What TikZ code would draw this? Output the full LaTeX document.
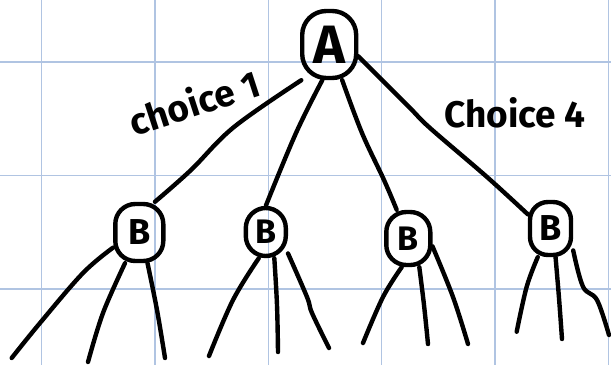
\documentclass[tikz,border=0pt]{standalone}
\usepackage{fontspec}
\setmainfont{Fira Sans}
\begin{document}
\begin{tikzpicture}[x=1pt,y=-1pt,
  gridline/.style={draw={rgb,255:red,176;green,196;blue,226},line width=1.4pt},
  ink/.style={line width=4.4pt,line cap=round,line join=round},
  vbox/.style={draw,ink,inner sep=0pt,rounded corners=#1},
  vbox/.default=20pt,
  lbl/.style={font=\fontsize{37}{40}\selectfont\bfseries,inner sep=0pt},
  sm/.style={smooth,tension=0.6}]
\useasboundingbox (0,0) rectangle (611,365);
% grid
\foreach \gx in {41.5,154.9,268.3,381.7,495.1,608.5}
  \draw[gridline] (\gx,0) -- (\gx,365);
\foreach \gy in {62,175.4,288.8}
  \draw[gridline] (0,\gy) -- (611,\gy);
% nodes
\node[vbox=24pt,minimum width=54pt,minimum height=67pt,font=\fontsize{54}{56}\selectfont\bfseries] (A) at (329.2,44.5) {A};
\node[vbox,minimum width=48pt,minimum height=57pt,font=\fontsize{36}{38}\selectfont\bfseries] (B1) at (139.3,232.5) {B};
\node[vbox=20pt,minimum width=40pt,minimum height=48pt,font=\fontsize{34}{36}\selectfont\bfseries] (B2) at (265.8,232) {B};
\node[vbox,minimum width=44pt,minimum height=53pt,font=\fontsize{34}{36}\selectfont\bfseries] (B3) at (408.3,238.5) {B};
\node[vbox=18pt,minimum width=41pt,minimum height=53pt,font=\fontsize{36}{38}\selectfont\bfseries] (B4) at (550.5,228.5) {B};
% labels
\node[lbl,rotate=18] (c1) at (194,102) {choice 1};
\node[lbl] (c4) at (515,113) {Choice 4};
% edges from A
\draw[ink] plot[sm] coordinates {(A.232) (234,127) (191,170) (B1.63)};
\draw[ink] plot[sm] coordinates {(A.259) (296,133) (B2.90)};
\draw[ink] plot[sm] coordinates {(A.290) (362,133) (384,180) (B3.112)};
\draw[ink] plot[sm] coordinates {(A.-22) (409,107) (430,128) (487,177) (B4.148)};
% free ends
\coordinate (e11) at (11.7,358);
\coordinate (e12) at (88,362);
\coordinate (e13) at (165,358);
\coordinate (e21) at (209,356);
\coordinate (e22) at (278,352);
\coordinate (e23) at (329,348);
\coordinate (e31) at (363,343);
\coordinate (e32) at (428,344);
\coordinate (e33) at (468,344);
\coordinate (e41) at (516.7,331.7);
\coordinate (e42) at (562,339);
\coordinate (e43) at (609,335);
% edges from B nodes
\draw[ink] plot[sm] coordinates {(B1.210) (83,273) (40,323) (e11)};
\draw[ink] plot[sm] coordinates {(B1.245) (103,313) (e12)};
\draw[ink] plot[sm] coordinates {(B1.285) (157,310) (e13)};
\draw[ink] plot[sm] coordinates {(B2.255) (233,300) (e21)};
\draw[ink] plot[sm] coordinates {(B2.288) (277,305) (e22)};
\draw[ink] plot[sm] coordinates {(B2.316) (307,297) (312,313) (e23)};
\draw[ink] plot[sm] coordinates {(B3.257) (383,297) (e31)};
\draw[ink] plot[sm] coordinates {(B3.291) (424,305) (e32)};
\draw[ink] plot[sm] coordinates {(B3.342) (453,297) (e33)};
\draw[ink] plot[sm] coordinates {(B4.246) (526.7,286.7) (e41)};
\draw[ink] plot[sm] coordinates {(B4.280) (559,298) (e42)};
\draw[ink] plot[sm] coordinates {(B4.316) (583,286.7) (597,300) (e43)};
\end{tikzpicture}
\end{document}
